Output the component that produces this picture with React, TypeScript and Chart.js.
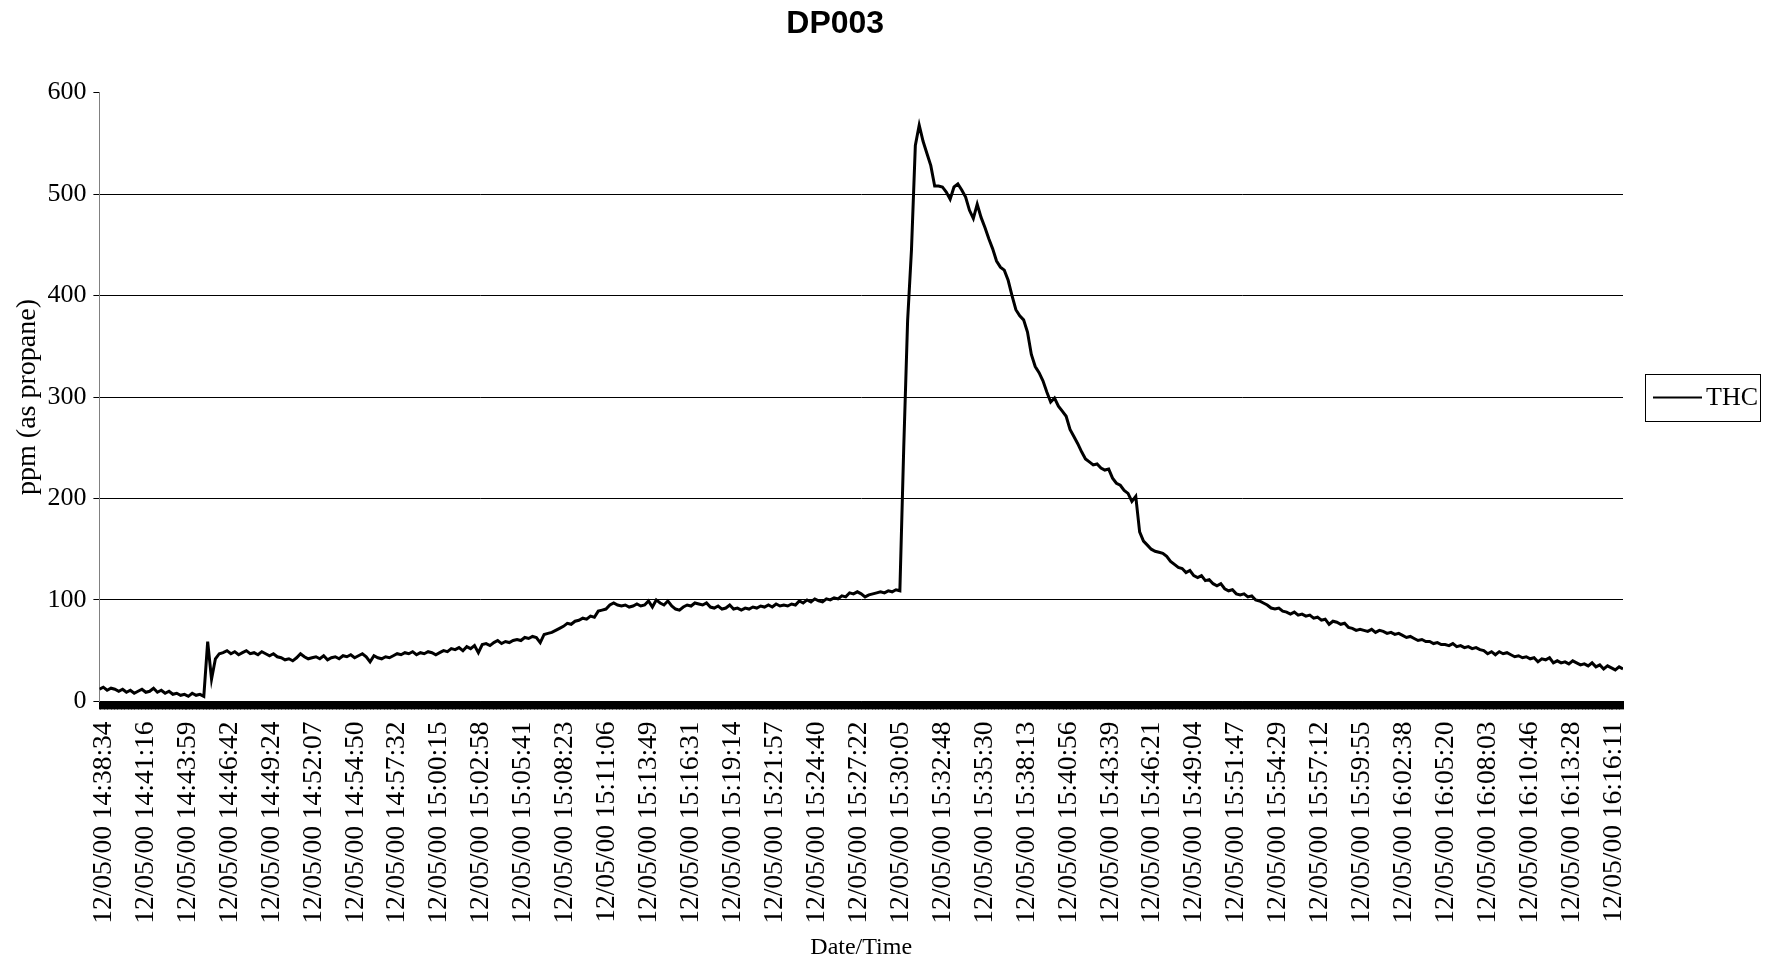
import React, { useEffect, useRef } from 'react';
import { Chart, registerables } from 'chart.js';

Chart.register(...registerables);

const TITLE = 'DP003';
const SERIES_LABEL = 'THC';
const Y_TITLE = 'ppm (as propane)';
const X_TITLE = 'Date/Time';

const Y_MIN = 0;
const Y_MAX = 600;
const Y_STEP = 100;

// Category tick labels shown on the time axis
const TICK_LABELS = [
  '12/05/00 14:38:34', '12/05/00 14:41:16', '12/05/00 14:43:59', '12/05/00 14:46:42',
  '12/05/00 14:49:24', '12/05/00 14:52:07', '12/05/00 14:54:50', '12/05/00 14:57:32',
  '12/05/00 15:00:15', '12/05/00 15:02:58', '12/05/00 15:05:41', '12/05/00 15:08:23',
  '12/05/00 15:11:06', '12/05/00 15:13:49', '12/05/00 15:16:31', '12/05/00 15:19:14',
  '12/05/00 15:21:57', '12/05/00 15:24:40', '12/05/00 15:27:22', '12/05/00 15:30:05',
  '12/05/00 15:32:48', '12/05/00 15:35:30', '12/05/00 15:38:13', '12/05/00 15:40:56',
  '12/05/00 15:43:39', '12/05/00 15:46:21', '12/05/00 15:49:04', '12/05/00 15:51:47',
  '12/05/00 15:54:29', '12/05/00 15:57:12', '12/05/00 15:59:55', '12/05/00 16:02:38',
  '12/05/00 16:05:20', '12/05/00 16:08:03', '12/05/00 16:10:46', '12/05/00 16:13:28',
  '12/05/00 16:16:11',
];

// samples: seconds relative to the first tick label, one reading every 15 s
const SAMPLE_START = -9;
const SAMPLE_STEP = 15;
const TICK_MARK_STEP = 3;

const THC = [
  // 14:38 - 14:45 baseline
  12, 14, 11, 13, 12, 10, 12,
  9, 11, 8, 10, 12, 9, 10, 13, 9, 11, 8, 10,
  7, 8, 6, 7, 5, 8, 6, 7, 5,
  // jump
  59, 22, 42, 47,
  // plateau ~45 and slow rise
  48, 50, 47, 49, 46, 48, 50, 47,
  48, 46, 49, 47, 45, 47, 44, 43,
  41, 42, 40, 43, 47, 44, 42, 43,
  44, 42, 45, 41, 43, 44, 42, 45,
  44, 46, 43, 45, 47, 44, 39, 45,
  43, 42, 44, 43, 45, 47, 46, 48,
  47, 49, 46, 48, 47, 49, 48, 46,
  48, 50, 49, 52, 51, 53, 50, 54,
  52, 55, 48, 56, 57, 55, 58, 60,
  // rise to ~95 and plateau to ~110
  57, 59, 58, 60, 61, 60, 63, 62,
  64, 63, 58, 66, 67, 68, 70, 72,
  74, 77, 76, 79, 80, 82, 81, 84,
  83, 89, 90, 91, 95, 97, 95, 94,
  95, 93, 94, 96, 94, 95, 99, 93,
  100, 97, 95, 99, 94, 91, 90, 93,
  95, 94, 97, 96, 95, 97, 93, 92,
  94, 91, 92, 95, 91, 92, 90, 92,
  91, 93, 92, 94, 93, 95, 93, 96,
  94, 95, 94, 96, 95, 99, 97, 100,
  98, 101, 99, 98, 101, 100, 102, 101,
  104, 103, 107, 106, 108, 106, 103, 105,
  106, 107, 108, 107, 109, 108, 110, 109,
  // spike
  250, 375, 445, 548, 568, 552, 540, 528,
  508, 508, 507, 502, 495, 507, 510, 504,
  497, 484, 476, 490, 477, 467, 456, 446,
  434, 428, 425, 415, 400, 386, 380,
  // decay
  376, 364, 342, 330, 324, 316, 305, 295,
  299, 291, 286, 281, 268, 261, 254, 246,
  239, 236, 233, 234, 230, 228, 229, 220,
  215, 213, 208, 205, 197, 202, 167, 158,
  154, 150, 148, 147, 146, 143, 138, 135,
  132, 131, 127, 129, 124, 122, 124, 119,
  120, 116, 114, 116, 111, 109, 110, 106,
  105, 106, 103, 104,
  // tail
  100, 99, 97, 95, 92, 91, 92, 89,
  88, 86, 88, 85, 86, 84, 85, 82,
  83, 80, 81, 76, 79, 78, 76, 77,
  73, 72, 70, 71, 70, 69, 71, 68,
  70, 69, 67, 68, 66, 67, 65, 63,
  64, 62, 60, 61, 59, 59, 57, 58,
  56, 56, 55, 57, 54, 55, 53, 54,
  52, 53, 51, 50, 47, 49, 46, 49,
  47, 48, 46, 44, 45, 43, 44, 42,
  43, 39, 42, 41, 43, 38, 40, 38,
  39, 37, 40, 38, 36, 37, 35, 38,
  34, 36, 32, 35, 33, 31, 34, 32,
];

const SERIF = '"Liberation Serif", "Times New Roman", serif';
const SANS = '"Liberation Sans", Arial, sans-serif';

const toSeconds = (label: string) => {
  const [h, m, s] = label.split(' ')[1].split(':').map(Number);
  return h * 3600 + m * 60 + s;
};

const titlePlugin = {
  id: 'topTitle',
  afterDraw(chart: any) {
    const { ctx, chartArea } = chart;
    ctx.save();
    ctx.font = `bold 32px ${SANS}`;
    ctx.fillStyle = '#000';
    ctx.textAlign = 'center';
    ctx.textBaseline = 'alphabetic';
    ctx.fillText(TITLE, (chartArea.left + chartArea.right) / 2 - 26, 33);
    ctx.restore();
  },
};

const legendBoxPlugin = {
  id: 'legendBox',
  afterDraw(chart: any) {
    const { ctx, chartArea } = chart;
    const ds = chart.data.datasets[0];
    const width = 115;
    const height = 47;
    const left = Math.round(chartArea.right + 22);
    const top = Math.round((chartArea.top + chartArea.bottom) / 2 - height / 2);
    const midY = top + height / 2;
    ctx.save();
    ctx.strokeStyle = '#000';
    ctx.lineWidth = 1;
    ctx.strokeRect(left + 0.5, top + 0.5, width, height);
    ctx.beginPath();
    ctx.lineWidth = 2;
    ctx.strokeStyle = ds.borderColor;
    ctx.moveTo(left + 8, midY);
    ctx.lineTo(left + 57, midY);
    ctx.stroke();
    ctx.font = `26px ${SERIF}`;
    ctx.fillStyle = '#000';
    ctx.textAlign = 'left';
    ctx.textBaseline = 'middle';
    ctx.fillText(ds.label, left + 61, midY + 1);
    ctx.restore();
  },
};

export default function App() {
  const canvasRef = useRef<HTMLCanvasElement | null>(null);

  useEffect(() => {
    const canvas = canvasRef.current;
    if (!canvas) return;

    const t0 = toSeconds(TICK_LABELS[0]);
    const labelMap = new Map<number, string>();
    TICK_LABELS.forEach((l) => labelMap.set(toSeconds(l) - t0, l));

    const xMin = SAMPLE_START;
    const xMax = SAMPLE_START + SAMPLE_STEP * (THC.length - 1);
    const tickSet = new Set<number>(labelMap.keys());
    for (let t = xMin; t <= xMax; t += TICK_MARK_STEP) tickSet.add(t);
    const tickValues = Array.from(tickSet).sort((a, b) => a - b);

    const points = THC.map((v, i) => ({ x: SAMPLE_START + i * SAMPLE_STEP, y: v }));

    const chart = new Chart(canvas, {
      type: 'line',
      data: {
        datasets: [
          {
            label: SERIES_LABEL,
            data: points,
            borderColor: '#000000',
            borderWidth: 3,
            pointRadius: 0,
            tension: 0,
            fill: false,
          },
        ],
      },
      plugins: [titlePlugin, legendBoxPlugin],
      options: {
        animation: false,
        responsive: false,
        events: [],
        layout: { padding: { top: 92.6, right: 148, bottom: 0, left: 0 } },
        plugins: {
          legend: { display: false },
          title: { display: false },
          tooltip: { enabled: false },
        },
        scales: {
          x: {
            type: 'linear',
            min: xMin,
            max: xMax,
            afterBuildTicks: (scale: any) => {
              scale.ticks = tickValues.map((v) => ({ value: v }));
            },
            afterFit: (scale: any) => {
              scale.height = 260.6;
            },
            ticks: {
              autoSkip: false,
              minRotation: 90,
              maxRotation: 90,
              padding: 12,
              labelOffset: 2,
              color: '#000',
              font: { family: SERIF, size: 27.5 },
              callback: (value: any) => labelMap.get(Number(value)) ?? '',
            },
            grid: {
              drawOnChartArea: false,
              drawTicks: true,
              tickLength: 8,
              color: '#000',
              lineWidth: 1,
            },
            border: { display: true, color: '#000' },
            title: {
              display: true,
              text: X_TITLE,
              color: '#000',
              font: { family: SERIF, size: 24 },
              padding: 0,
            },
          },
          y: {
            min: Y_MIN,
            max: Y_MAX,
            afterFit: (scale: any) => {
              scale.width = 99.4;
            },
            ticks: {
              stepSize: Y_STEP,
              padding: 7,
              color: '#000',
              font: { family: SERIF, size: 26 },
            },
            grid: {
              color: (ctx: any) => (ctx.tick && ctx.tick.value === Y_MAX ? 'rgba(0,0,0,0)' : '#000'),
              tickColor: '#000',
              tickLength: 6,
              lineWidth: 1,
            },
            border: { display: true, color: '#808080' },
            title: {
              display: true,
              text: Y_TITLE,
              color: '#000',
              font: { family: SERIF, size: 28 },
              padding: { top: 11, bottom: 0 },
            },
          },
        },
      },
    });

    return () => chart.destroy();
  }, []);

  return (
    <div style={{ position: 'absolute', left: 0, top: 0, width: 1771, height: 962, background: '#fff' }}>
      <canvas ref={canvasRef} width={1771} height={962} style={{ display: 'block' }} />
    </div>
  );
}
